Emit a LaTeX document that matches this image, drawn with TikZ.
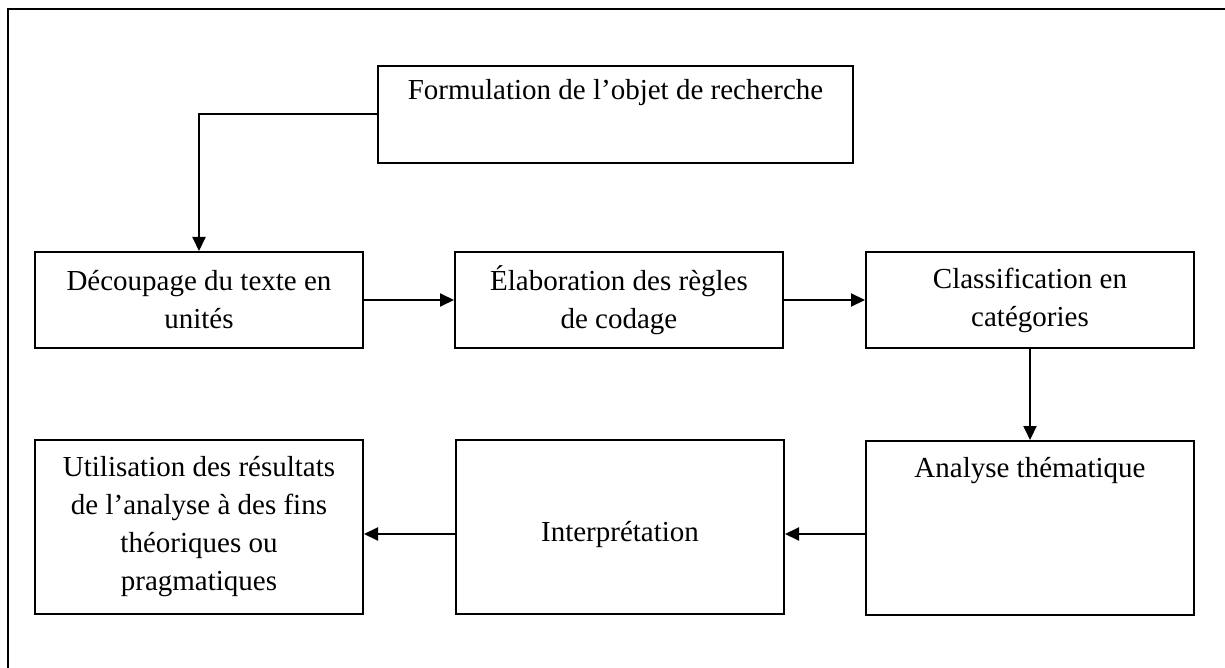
\documentclass[tikz,border=0pt]{standalone}
\usepackage{fontspec}
\setmainfont{Liberation Serif}
\usepackage{tikz}
\usetikzlibrary{
  arrows.meta,
  calc,
  positioning
}
\tikzset{>={Triangle[length=14pt,width=13pt]}}
\tikzset{
  etape/.style={draw, line width=2pt, inner sep=0pt, align=center,
    font=\fontsize{29}{38}\selectfont},
  etapehaut/.style={etape, anchor=north},
  fleche/.style={->, line width=2pt}
}

\begin{document}
\begin{tikzpicture}[x=1pt,y=-1pt] \label{fig:analyse-contenu-etapes}
	\useasboundingbox (0,0) rectangle (1225,668);
	% cadre (coupe a droite et en bas)
	\coordinate (cadreBG) at (8,668);
	\coordinate (cadreHG) at (8,9);
	\coordinate (cadreHD) at (1225,9);
	\draw[line width=2pt] (cadreBG)--(cadreHG)--(cadreHD);
	% etapes
	\node[etapehaut, minimum width=475pt, text height=34pt, text depth=63pt]
		(formul) at (615.5,65) {Formulation de l’objet de recherche};
	\node[etape, minimum width=328pt, minimum height=96pt]
		(decoup) at (199,300) {Découpage du texte en\\unités};
	\node[etape, minimum width=328pt, minimum height=96pt]
		(elab) at (619,300) {Élaboration des règles\\de codage};
	\node[etape, minimum width=328pt, minimum height=96pt]
		(classif) at (1030,300) {Classification en\\catégories};
	\node[etapehaut, minimum width=328pt, text height=36pt, text depth=138pt]
		(analyse) at (1030,440) {Analyse thématique};
	\node[etape, minimum width=328pt, minimum height=174pt, text height=34pt, text depth=6pt]
		(interp) at (620,527) {Interprétation};
	\node[etape, minimum width=328pt, minimum height=174pt]
		(utilis) at (199,527) {Utilisation des résultats\\de l’analyse à des fins\\théoriques ou\\pragmatiques};
	% fleches
	\coordinate (sortieAnalyse) at ([yshift=-7pt]interp.east -| analyse.west);
	\coordinate (sortieInterp) at ([yshift=-7pt]interp.west);
	\draw[fleche] (formul.west) -| (decoup.north);
	\draw[fleche] (decoup.east) -- (elab.west);
	\draw[fleche] (elab.east) -- (classif.west);
	\draw[fleche] (classif.south) -- (analyse.north);
	\draw[fleche] (sortieAnalyse) -- (sortieAnalyse -| interp.east);
	\draw[fleche] (sortieInterp) -- (sortieInterp -| utilis.east);
\end{tikzpicture}
\end{document}
